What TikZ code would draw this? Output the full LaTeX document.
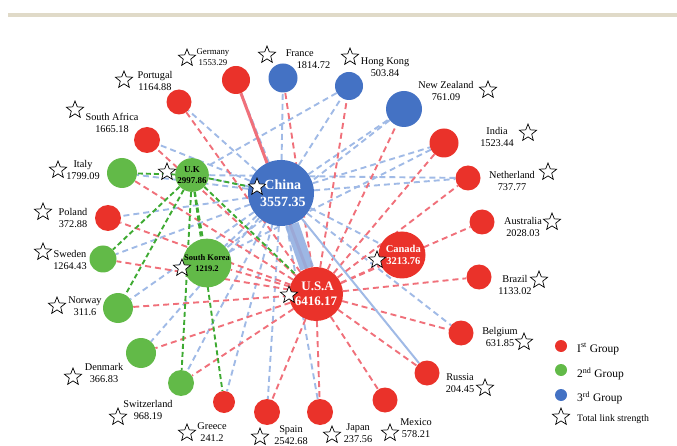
\documentclass[tikz,border=0pt]{standalone}
\usepackage{fontspec}
\setmainfont{Liberation Serif}
\usetikzlibrary{shapes.geometric,backgrounds}
\definecolor{grpred}{RGB}{234,50,42}
\definecolor{grpgreen}{RGB}{98,186,72}
\definecolor{grpblue}{RGB}{68,114,196}
\definecolor{linkblue}{RGB}{160,186,230}
\definecolor{linkred}{RGB}{240,112,122}
\definecolor{linkgreen}{RGB}{62,170,50}
\definecolor{barbeige}{RGB}{224,218,200}
\tikzset{
	country/.style  = {shape=circle, inner sep=0pt, align=center},
	grpone/.style   = {country, fill=grpred},
	grptwo/.style   = {country, fill=grpgreen},
	grpthree/.style = {country, fill=grpblue},
	lab/.style      = {align=center, inner sep=0pt, font=\fontsize{10.3}{12}\selectfont},
	strength/.style = {star, star points=5, star point ratio=2.3, draw, line width=0.7pt,
		fill=white, minimum size=18pt, inner sep=0pt},
	bluelink/.style = {draw=linkblue, line width=1.9pt, dash pattern=on 6pt off 4pt},
	redlink/.style  = {draw=linkred, line width=1.9pt, dash pattern=on 6pt off 4pt},
	greenlink/.style= {draw=linkgreen, line width=1.9pt, dash pattern=on 5pt off 3pt}
}
\begin{document}
\begin{tikzpicture}[x=1pt, y=-1pt]
	\useasboundingbox (0,0) rectangle (677,446);
	\fill[barbeige] (8,13) rectangle (677,17);
	% countries
	\node [grpone, minimum size=28pt] (ger) at (236,80) {};
	\node [grpthree, minimum size=29pt] (fra) at (283,78) {};
	\node [grpthree, minimum size=28pt] (hkg) at (349,86) {};
	\node [grpthree, minimum size=36pt] (nzl) at (404,109) {};
	\node [grpone, minimum size=29pt] (ind) at (444,143) {};
	\node [grpone, minimum size=25pt] (ned) at (468,178) {};
	\node [grpone, minimum size=25pt] (aus) at (482,222) {};
	\node [grpone, minimum size=25pt] (bra) at (479,277) {};
	\node [grpone, minimum size=25pt] (bel) at (461,333) {};
	\node [grpone, minimum size=25pt] (rus) at (427,373) {};
	\node [grpone, minimum size=25pt] (mex) at (385,400) {};
	\node [grpone, minimum size=26pt] (jpn) at (320,412) {};
	\node [grpone, minimum size=26pt] (esp) at (267,412) {};
	\node [grpone, minimum size=22pt] (gre) at (224,402) {};
	\node [grptwo, minimum size=26pt] (sui) at (181,383) {};
	\node [grptwo, minimum size=30pt] (den) at (141,353) {};
	\node [grptwo, minimum size=30pt] (nor) at (118,308) {};
	\node [grptwo, minimum size=27pt] (swe) at (103,259) {};
	\node [grpone, minimum size=26pt] (pol) at (108,218) {};
	\node [grptwo, minimum size=30pt] (ita) at (122,173) {};
	\node [grpone, minimum size=26pt] (rsa) at (147,140) {};
	\node [grpone, minimum size=25pt] (por) at (179,102) {};
	\node [grptwo, minimum size=30pt, font=\bfseries\fontsize{9}{11}\selectfont] (uk) at (192,175) {U.K\\2997.86};
	\node [grptwo, minimum size=44pt, font=\bfseries\fontsize{8.5}{10.5}\selectfont] (kor) at (207,263) {South Korea\\1219.2};
	\node [grpthree, minimum size=66pt, text=white, font=\bfseries\fontsize{14}{16.5}\selectfont] (chn) at (281,193) {\ China\\\ 3557.35};
	\node [grpone, minimum size=54pt, text=white, font=\bfseries\fontsize{13}{15}\selectfont] (usa) at (316,294) {\ U.S.A\\6416.17};
	\node [grpone, minimum size=47pt, text=white, font=\bfseries\fontsize{10.5}{12}\selectfont] (can) at (402,255) {\ Canada\\\ 3213.76};
	% links
	\begin{scope}[on background layer]
		\path [bluelink] (chn) edge (ger) edge (fra) edge (hkg) edge (nzl) edge (ind)
			edge (ned) edge (bel) edge (jpn) edge (esp) edge (gre) edge (sui)
			edge (den) edge (nor) edge (swe) edge (pol) edge (ita) edge (rsa)
			edge (por) edge (uk) edge (kor) edge (can);
		\path [bluelink] (nzl) edge (kor) (hkg) edge (uk) (ind) edge (kor) (ned) edge (uk);
		\path [redlink] (usa) edge (fra) edge (hkg) edge (nzl) edge (ind) edge (ned)
			edge (aus) edge (bra) edge (bel) edge (rus) edge (mex) edge (jpn)
			edge (esp) edge (sui) edge (den) edge (nor) edge (swe) edge (pol)
			edge (ita) edge (rsa) edge (por) edge (can) edge (kor);
		\path [greenlink] (uk) edge (ita) edge (swe) edge (nor) edge (sui)
			edge (gre) edge (kor) edge (chn) edge (usa);
		\draw [linkred, line width=3pt] (ger) -- (usa);
		\draw [linkblue, line width=2pt] (chn) -- (rus);
		\draw [linkblue!85!grpblue, line width=14pt, opacity=0.9] (chn) -- (usa);
	\end{scope}
	% labels
	\node [lab, font=\fontsize{8.8}{10.5}\selectfont] (gerlab) at (213,57) {Germany\\1553.29};
	\node [lab, align=left] (fralab) at (308,59) {France\\\hspace{11pt}1814.72};
	\node [lab] (hkglab) at (385,67) {Hong Kong\\503.84};
	\node [lab] (nzllab) at (446,91) {New Zealand\\761.09};
	\node [lab] (indlab) at (497,137) {India\\1523.44};
	\node [lab] (nedlab) at (512,181) {Netherland\\737.77};
	\node [lab] (auslab) at (523,227) {Australia\\2028.03};
	\node [lab] (bralab) at (515,285) {Brazil\\1133.02};
	\node [lab] (bellab) at (500,337) {Belgium\\631.85};
	\node [lab] (ruslab) at (460,383) {Russia\\204.45};
	\node [lab] (mexlab) at (416,428) {Mexico\\578.21};
	\node [lab] (jpnlab) at (358,433) {Japan\\237.56};
	\node [lab] (esplab) at (291,435) {Spain\\2542.68};
	\node [lab] (grelab) at (212,432) {Greece\\241.2};
	\node [lab] (suilab) at (148,410) {Switzerland\\968.19};
	\node [lab] (denlab) at (104,373) {Denmark\\366.83};
	\node [lab] (norlab) at (85,306) {Norway\\311.6};
	\node [lab] (swelab) at (70,260) {Sweden\\1264.43};
	\node [lab] (pollab) at (73,218) {Poland\\372.88};
	\node [lab] (italab) at (83,170) {Italy\\1799.09};
	\node [lab] (rsalab) at (112,123) {South Africa\\1665.18};
	\node [lab] (porlab) at (155,81) {Portugal\\1164.88};
	% total link strength
	\node [strength] (gerstar) at (187,58) {};
	\node [strength] (frastar) at (267,55) {};
	\node [strength] (hkgstar) at (350,57) {};
	\node [strength] (nzlstar) at (488,90) {};
	\node [strength] (indstar) at (528,133) {};
	\node [strength] (nedstar) at (548,172) {};
	\node [strength] (ausstar) at (552,222) {};
	\node [strength] (brastar) at (539,280) {};
	\node [strength] (belstar) at (524,342) {};
	\node [strength] (russtar) at (485,388) {};
	\node [strength] (mexstar) at (390,433) {};
	\node [strength] (jpnstar) at (332,435) {};
	\node [strength] (espstar) at (260,437) {};
	\node [strength] (grestar) at (187,433) {};
	\node [strength] (suistar) at (118,417) {};
	\node [strength] (denstar) at (73,377) {};
	\node [strength] (norstar) at (57,306) {};
	\node [strength] (swestar) at (43,252) {};
	\node [strength] (polstar) at (43,212) {};
	\node [strength] (itastar) at (58,170) {};
	\node [strength] (rsastar) at (75,110) {};
	\node [strength] (porstar) at (124,80) {};
	\node [strength] (ukstar) at (167,172) {};
	\node [strength] (korstar) at (182,268) {};
	\node [strength] (chnstar) at (257,187) {};
	\node [strength] (usastar) at (289,295) {};
	\node [strength] (canstar) at (377,260) {};
	% legend
	\node [grpone, minimum size=12pt] (legone) at (561,346) {};
	\node [grptwo, minimum size=12pt] (legtwo) at (561,370) {};
	\node [grpthree, minimum size=12pt] (legthree) at (561,395) {};
	\node [strength] (legstar) at (561,417) {};
	\node [anchor=west, inner sep=0pt, font=\fontsize{11.5}{13}\selectfont] (legonetxt) at (577,349) {I\textsuperscript{st} Group};
	\node [anchor=west, inner sep=0pt, font=\fontsize{11.5}{13}\selectfont] (legtwotxt) at (577,374) {2\textsuperscript{nd} Group};
	\node [anchor=west, inner sep=0pt, font=\fontsize{11.5}{13}\selectfont] (legthreetxt) at (577,398) {3\textsuperscript{rd} Group};
	\node [anchor=west, inner sep=0pt, font=\fontsize{9.8}{11}\selectfont] (legstartxt) at (577,419) {Total link strength};
\end{tikzpicture}
\end{document}
